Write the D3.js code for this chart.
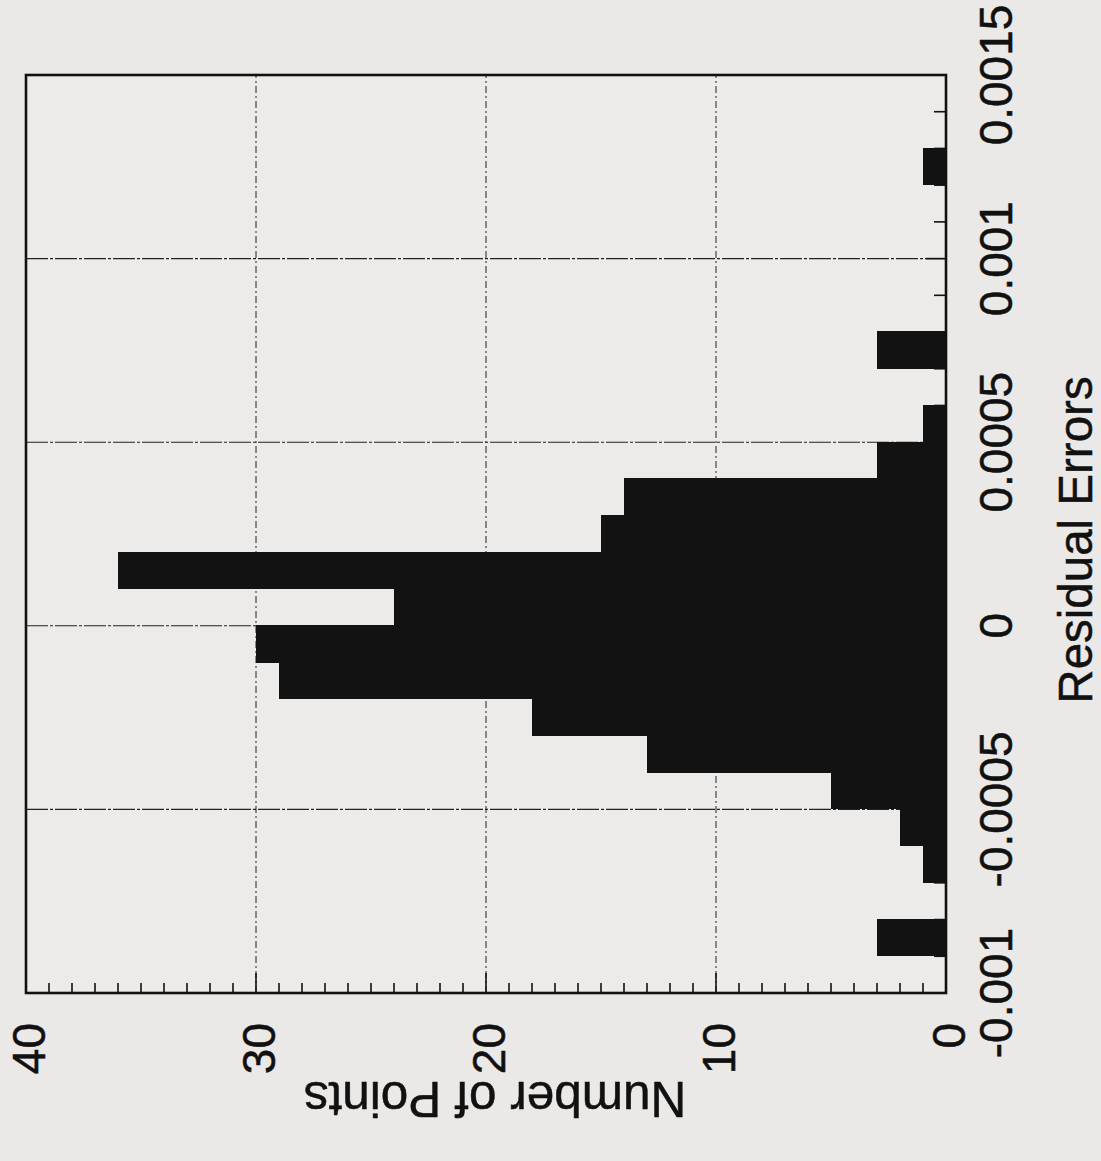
<!DOCTYPE html>
<html>
<head>
<meta charset="utf-8">
<script src="https://cdn.jsdelivr.net/npm/d3@7"></script>
<style>
  html, body { margin: 0; padding: 0; background: #ebe9e7; }
  svg { display: block; }
  text { font-family: "Liberation Sans", Arial, Helvetica, sans-serif; fill: #111; stroke: #111; stroke-width: 0.5; }
</style>
</head>
<body>
<svg id="chart" width="1101" height="1161"></svg>
<script>
// Histogram bins of residual errors (lower edge of each bin) and counts
const binStarts = [-0.0010, -0.0009, -0.0008, -0.0007, -0.0006, -0.0005, -0.0004, -0.0003,
                   -0.0002, -0.0001, 0.0000, 0.0001, 0.0002, 0.0003, 0.0004, 0.0005,
                   0.0006, 0.0007, 0.0008, 0.0009, 0.0010, 0.0011, 0.0012, 0.0013, 0.0014];
const binCounts = [0, 3, 0, 1, 2, 5, 13, 18,
                   29, 30, 24, 36, 15, 14, 3, 1,
                   0, 3, 0, 0, 0, 0, 1, 0, 0];
const binWidth = 0.0001;

const residualTicks = [-0.001, -0.0005, 0, 0.0005, 0.001, 0.0015];
const residualTickLabels = ["-0.001", "-0.0005", "0", "0.0005", "0.001", "0.0015"];
const countTicks = [0, 10, 20, 30, 40];
const countTickLabels = ["0", "10", "20", "30", "40"];

const xTitle = "Residual Errors";
const yTitle = "Number of Points";

// Plot is laid out as an upright histogram, then turned a quarter turn counter-clockwise
const W = 918, H = 920;
const svg = d3.select("#chart");
const g = svg.append("g").attr("transform", "translate(26,993) rotate(-90)");

const x = d3.scaleLinear().domain([-0.001, 0.0015]).range([0, W]);
const y = d3.scaleLinear().domain([0, 40]).range([H, 0]);

// plot background
g.append("rect").attr("x", 0).attr("y", 0).attr("width", W).attr("height", H)
  .attr("fill", "#edebea");

// grid lines
g.append("g").selectAll("line").data(residualTicks.slice(1, -1)).join("line")
  .attr("x1", d => x(d)).attr("x2", d => x(d)).attr("y1", 0).attr("y2", H)
  .attr("stroke", "#222").attr("stroke-width", 1.1).attr("stroke-dasharray", "22,2,3,2");
g.append("g").selectAll("line").data(countTicks.slice(1, -1)).join("line")
  .attr("x1", 0).attr("x2", W).attr("y1", d => y(d)).attr("y2", d => y(d))
  .attr("stroke", "#222").attr("stroke-width", 1).attr("stroke-dasharray", "7,3,2,3");

// minor + major ticks, pointing into the plot
const tickStroke = "#111";
const xMinor = d3.range(-0.001, 0.00151, 0.0001);
g.append("g").selectAll("line").data(xMinor).join("line")
  .attr("x1", d => x(d)).attr("x2", d => x(d))
  .attr("y1", H).attr("y2", (d, i) => H - (i % 5 === 0 ? 20 : 12))
  .attr("stroke", tickStroke).attr("stroke-width", 1.6);
const yMinor = d3.range(0, 41, 1);
g.append("g").selectAll("line").data(yMinor).join("line")
  .attr("y1", d => y(d)).attr("y2", d => y(d))
  .attr("x1", 0).attr("x2", (d, i) => (i % 10 === 0 ? 20 : 10))
  .attr("stroke", tickStroke).attr("stroke-width", 1.6);

// bars
g.append("g").attr("shape-rendering", "crispEdges").selectAll("rect")
  .data(binStarts.map((s, i) => ({ s, c: binCounts[i] })).filter(d => d.c > 0))
  .join("rect")
  .attr("x", d => x(d.s))
  .attr("width", d => x(d.s + binWidth) - x(d.s) + 0.6)
  .attr("y", d => y(d.c))
  .attr("height", d => H - y(d.c))
  .attr("fill", "#121212");

// frame
g.append("rect").attr("x", 0).attr("y", 0).attr("width", W).attr("height", H)
  .attr("fill", "none").attr("stroke", "#111").attr("stroke-width", 2.6);

// tick labels
g.append("g").selectAll("text").data(residualTicks).join("text")
  .attr("x", d => x(d)).attr("y", H + 66)
  .attr("text-anchor", "middle").attr("font-size", 46)
  .text((d, i) => residualTickLabels[i]);
g.append("g").selectAll("text").data(countTicks).join("text")
  .attr("x", -30).attr("y", d => y(d)).attr("dy", "0.42em")
  .attr("text-anchor", "end").attr("font-size", 46)
  .text((d, i) => countTickLabels[i]);

// axis titles
g.append("text").attr("x", W / 2 - 6).attr("y", H + 146)
  .attr("text-anchor", "middle").attr("font-size", 47.5).text(xTitle);
g.append("text").attr("transform", `translate(-89,${H / 2 + 9}) rotate(-90)`)
  .attr("text-anchor", "middle").attr("font-size", 49.5).text(yTitle);
</script>
</body>
</html>
